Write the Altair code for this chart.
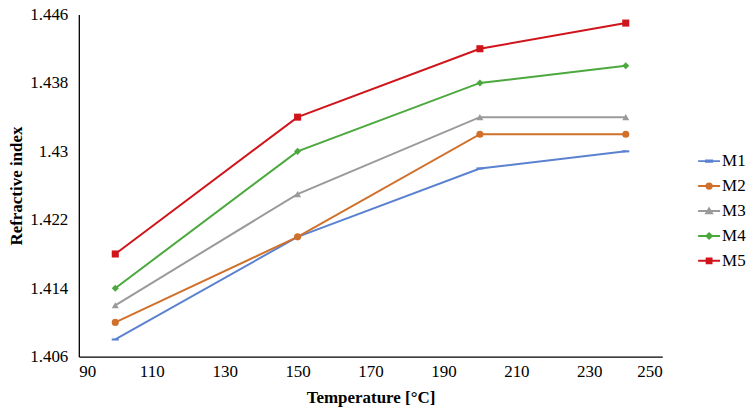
import altair as alt
import pandas as pd

temperatures = [100, 150, 200, 240]
series_names = ["M1", "M2", "M3", "M4", "M5"]
m1 = [1.408, 1.420, 1.428, 1.430]
m2 = [1.410, 1.420, 1.432, 1.432]
m3 = [1.412, 1.425, 1.434, 1.434]
m4 = [1.414, 1.430, 1.438, 1.440]
m5 = [1.418, 1.434, 1.442, 1.445]

x_ticks = [90, 110, 130, 150, 170, 190, 210, 230, 250]
y_ticks = [1.406, 1.414, 1.422, 1.430, 1.438, 1.446]

colors = ["#5B82D0", "#D0702A", "#9A9A9A", "#4CA83E", "#D0141B"]
plot_shapes = ["M-1,-0.3H1V0.3H-1Z", "circle", "triangle-up", "diamond", "square"]
legend_shapes = [
    "M-1,0H1M-0.28,-0.06H0.28V0.06H-0.28Z",
    "M-1,0H1M-0.24,0A0.24,0.24 0 1,0 0.24,0A0.24,0.24 0 1,0 -0.24,0Z",
    "M-1,0H1M-0.26,0.2L0,-0.24L0.26,0.2Z",
    "M-1,0H1M0,-0.24L0.24,0L0,0.24L-0.24,0Z",
    "M-1,0H1M-0.22,-0.22H0.22V0.22H-0.22Z",
]

rows = []
for name, vals in zip(series_names, [m1, m2, m3, m4, m5]):
    for t, v in zip(temperatures, vals):
        rows.append({"Temperature": t, "Refractive index": v, "Series": name})
df = pd.DataFrame(rows)

FONT = "Liberation Serif"

x_enc = alt.X("Temperature:Q",
              scale=alt.Scale(domain=[90, 250], nice=False, zero=False),
              axis=alt.Axis(values=x_ticks, title="Temperature [°C]", grid=False,
                            ticks=False, labelPadding=7, titlePadding=10,
                            labelFont=FONT, labelFontSize=17, labelColor="#000000",
                            titleFont=FONT, titleFontSize=17, titleFontWeight="bold",
                            titleColor="#000000",
                            domainColor="#000000", domainWidth=1.3))
y_enc = alt.Y("Refractive index:Q",
              scale=alt.Scale(domain=[1.406, 1.446], nice=False, zero=False),
              axis=alt.Axis(values=y_ticks, format=".3~f", title="Refractive index",
                            grid=False, ticks=False, labelPadding=11, titlePadding=4,
                            labelFont=FONT, labelFontSize=17, labelColor="#000000",
                            titleFont=FONT, titleFontSize=17, titleFontWeight="bold",
                            titleColor="#000000",
                            domainColor="#000000", domainWidth=1.3))

color_scale = alt.Scale(domain=series_names, range=colors)

base = alt.Chart(df)

lines = base.mark_line(strokeWidth=2).encode(
    x=x_enc, y=y_enc,
    color=alt.Color("Series:N", scale=color_scale, legend=None),
)

points = base.mark_point(filled=True, size=50, opacity=1).encode(
    x=x_enc, y=y_enc,
    color=alt.Color("Series:N", scale=color_scale, legend=None),
    shape=alt.Shape("Series:N", scale=alt.Scale(domain=series_names, range=plot_shapes), legend=None),
)

legend_layer = base.transform_filter("datum.Temperature > 10000").mark_point(opacity=1).encode(
    x=x_enc, y=y_enc,
    fill=alt.Fill("Series:N", scale=alt.Scale(domain=series_names, range=colors),
                  legend=alt.Legend(title=None, orient="none", legendX=620, legendY=135,
                                    symbolSize=484, symbolStrokeWidth=2,
                                    labelFont=FONT, labelFontSize=17, labelColor="#000000",
                                    rowPadding=5, labelOffset=1)),
    stroke=alt.Stroke("Series:N", scale=alt.Scale(domain=series_names, range=colors)),
    shape=alt.Shape("Series:N", scale=alt.Scale(domain=series_names, range=legend_shapes)),
)

chart = alt.layer(lines, points, legend_layer).resolve_scale(
    color="independent", shape="independent", fill="independent", stroke="independent"
).properties(
    width=585, height=343,
    autosize=alt.AutoSizeParams(type="none"),
    padding={"left": 71, "top": 6, "right": 84, "bottom": 51},
).configure(font=FONT).configure_view(stroke=None).configure_axis(
    labelFont=FONT, labelFontSize=17, labelColor="#000000",
    titleFont=FONT, titleFontSize=17, titleFontWeight="bold", titleColor="#000000",
).configure_legend(labelFont=FONT, labelFontSize=17)

chart.save("out.html", embed_options={"renderer": "svg", "actions": False})
